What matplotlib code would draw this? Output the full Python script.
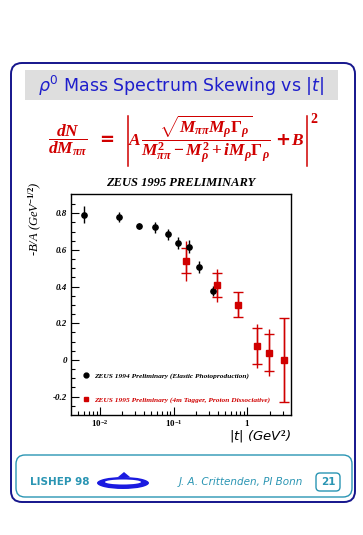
import numpy as np
import matplotlib
matplotlib.use("Agg")
import matplotlib.pyplot as plt
from matplotlib.patches import FancyBboxPatch, Ellipse, Polygon
from matplotlib.lines import Line2D
from matplotlib.ticker import LogLocator, FixedLocator, FixedFormatter, NullFormatter

# ZEUS 1994, elastic photoproduction
t_94 = [0.0061, 0.0183, 0.0341, 0.0562, 0.0843, 0.114, 0.161, 0.222, 0.343]
ba_94 = [0.793, 0.782, 0.729, 0.724, 0.686, 0.640, 0.618, 0.509, 0.376]
err_94 = [0.044, 0.027, 0.016, 0.030, 0.030, 0.033, 0.036, 0.033, 0.029]

# ZEUS 1995, 4m tagger, proton dissociative
t_95 = [0.146, 0.381, 0.748, 1.33, 1.97, 3.16]
ba_95 = [0.542, 0.407, 0.302, 0.075, 0.040, 0.000]
stat_95 = [0.066, 0.066, 0.070, 0.098, 0.100, 0.229]
tot_95 = [0.109, 0.090, 0.070, 0.120, 0.128, 0.229]

x_ticks = [0.01, 0.1, 1.0]
x_ticklabels = [r"$10^{-2}$", r"$10^{-1}$", r"$1$"]
y_ticks = [-0.2, 0.0, 0.2, 0.4, 0.6, 0.8]
y_ticklabels = ["-0.2", "0", "0.2", "0.4", "0.6", "0.8"]

NAVY = "#15158c"
TEAL = "#2a95b3"
RED = "#d00000"

plt.rcParams["mathtext.fontset"] = "custom"
plt.rcParams["mathtext.rm"] = "Liberation Serif:bold"
plt.rcParams["mathtext.it"] = "Liberation Serif:bold:italic"
plt.rcParams["mathtext.bf"] = "Liberation Serif:bold"

W, H = 363, 535
fig = plt.figure(figsize=(W / 100, H / 100), dpi=100)

# page decoration in pixel coords
bg = fig.add_axes([0, 0, 1, 1])
bg.set_xlim(0, W)
bg.set_ylim(H, 0)
bg.axis("off")

bg.add_patch(FancyBboxPatch((11, 63), 344, 439, boxstyle="round,pad=0,rounding_size=11",
                            fc="none", ec=NAVY, lw=1.4))
bg.add_patch(FancyBboxPatch((25, 70), 313, 30, boxstyle="square,pad=0",
                            fc="#dedede", ec="none"))
bg.text(181, 86, r"$\rho^0$ Mass Spectrum Skewing vs $|t|$", color="#1e1ecc",
        fontsize=12.5, ha="center", va="center", family="DejaVu Sans",
        math_fontfamily="dejavusans")

# formula, built from pieces
fs = 12.5
yc = 139
bg.text(68, yc + 1, r"$\dfrac{dN}{dM_{\pi\pi}}$", color=RED, fontsize=fs, ha="center", va="center")
bg.text(107, yc + 1, "=", color=RED, fontsize=13, fontweight="bold", ha="center", va="center",
        family="DejaVu Sans")
bg.plot([128, 128], [116, 166], color=RED, lw=1.1)
bg.plot([307, 307], [116, 166], color=RED, lw=1.1)
bg.text(135, yc + 1, r"$A$", color=RED, fontsize=fs, ha="center", va="center")
bg.text(206, yc, r"$\dfrac{\sqrt{M_{\pi\pi}M_\rho\Gamma_\rho}}{M^2_{\pi\pi}-M^2_\rho+iM_\rho\Gamma_\rho}$",
        color=RED, fontsize=fs, ha="center", va="center")
bg.text(283, yc + 1, "+", color=RED, fontsize=13, fontweight="bold", ha="center", va="center",
        family="DejaVu Sans")
bg.text(298, yc + 1, r"$B$", color=RED, fontsize=fs, ha="center", va="center")
bg.text(314, 119, r"$2$", color=RED, fontsize=10, ha="center", va="center")

# footer
bg.add_patch(FancyBboxPatch((16, 455), 336, 42, boxstyle="round,pad=0,rounding_size=9",
                            fc="none", ec=TEAL, lw=1.0))
bg.text(30, 482, "LISHEP 98", color=TEAL, fontsize=7.5, fontweight="bold",
        ha="left", va="center", family="DejaVu Sans")
bg.add_patch(Ellipse((123, 483), 52, 12, fc="#1a1ae0", ec="none"))
bg.add_patch(Polygon([[118, 477], [124, 472], [130, 477]], fc="#1a1ae0", ec="none"))
bg.add_patch(Ellipse((123, 482), 36, 5, fc="white", ec="none"))
bg.text(303, 482, "J. A. Crittenden, PI Bonn", color=TEAL, fontsize=7.5,
        style="italic", ha="right", va="center", family="DejaVu Sans")
bg.add_patch(FancyBboxPatch((316, 473), 24, 18, boxstyle="round,pad=0,rounding_size=4",
                            fc="none", ec=TEAL, lw=1.0))
bg.text(328, 482, "21", color=TEAL, fontsize=7.5, fontweight="bold",
        ha="center", va="center", family="DejaVu Sans")

# main plot
ax = fig.add_axes([71 / W, 1 - 415 / H, 220 / W, 221 / H])
ax.set_xscale("log")
ax.set_xlim(0.00405, 3.9)
ax.set_ylim(-0.3, 0.905)

ax.errorbar(t_94, ba_94, yerr=err_94, fmt="o", color="black", ms=3.8,
            elinewidth=1.0, capsize=0)
ax.errorbar(t_95, ba_95, yerr=tot_95, fmt="none", ecolor=RED, elinewidth=1.0, capsize=0)
ax.errorbar(t_95, ba_95, yerr=stat_95, fmt="s", color=RED, ms=3.8,
            elinewidth=1.0, capsize=3.5, capthick=1.0)

ax.xaxis.set_major_locator(FixedLocator(x_ticks))
ax.xaxis.set_major_formatter(FixedFormatter(x_ticklabels))
ax.xaxis.set_minor_locator(LogLocator(base=10, subs=np.arange(2, 10)))
ax.xaxis.set_minor_formatter(NullFormatter())
ax.yaxis.set_major_locator(FixedLocator(y_ticks))
ax.yaxis.set_major_formatter(FixedFormatter(y_ticklabels))
ax.yaxis.set_minor_locator(FixedLocator(np.arange(-0.25, 0.9, 0.05)))

ax.tick_params(which="both", direction="in", top=False, right=False, width=0.8)
ax.tick_params(which="major", length=6, labelsize=6.5, pad=3)
ax.tick_params(axis="x", which="major", pad=2)
ax.tick_params(which="minor", length=3)
for lab in ax.get_yticklabels():
    lab.set_fontweight("bold")
    lab.set_fontstyle("italic")
    lab.set_family("Liberation Serif")
for sp in ax.spines.values():
    sp.set_linewidth(1.0)

ax.set_title("ZEUS 1995 PRELIMINARY", fontsize=9, fontweight="bold", style="italic",
             family="Liberation Serif", pad=6)

fig.text(35 / W, 1 - 219 / H, "-B/A (GeV$^{-1/2}$)", rotation=90, fontsize=9,
         style="italic", ha="center", va="center", family="Liberation Serif")
fig.text(291 / W, 1 - 437 / H, "|t| (GeV$^2$)", fontsize=9.5, style="italic",
         ha="right", va="center", family="DejaVu Sans")

handles = [Line2D([], [], ls="none", marker="o", color="black", ms=3.5),
           Line2D([], [], ls="none", marker="s", color=RED, ms=3.5)]
labels = ["ZEUS 1994 Preliminary (Elastic Photoproduction)",
          "ZEUS 1995 Preliminary (4m Tagger, Proton Dissociative)"]
leg = ax.legend(handles, labels, loc="lower left", bbox_to_anchor=(0.02, 0.025),
                frameon=False, handlelength=1.0, handletextpad=0.6, labelspacing=2.3,
                prop={"family": "Liberation Serif", "weight": "bold",
                      "style": "italic", "size": 5.3})
for txt, c in zip(leg.get_texts(), ["black", RED]):
    txt.set_color(c)

fig.savefig("out.png", dpi=100)
